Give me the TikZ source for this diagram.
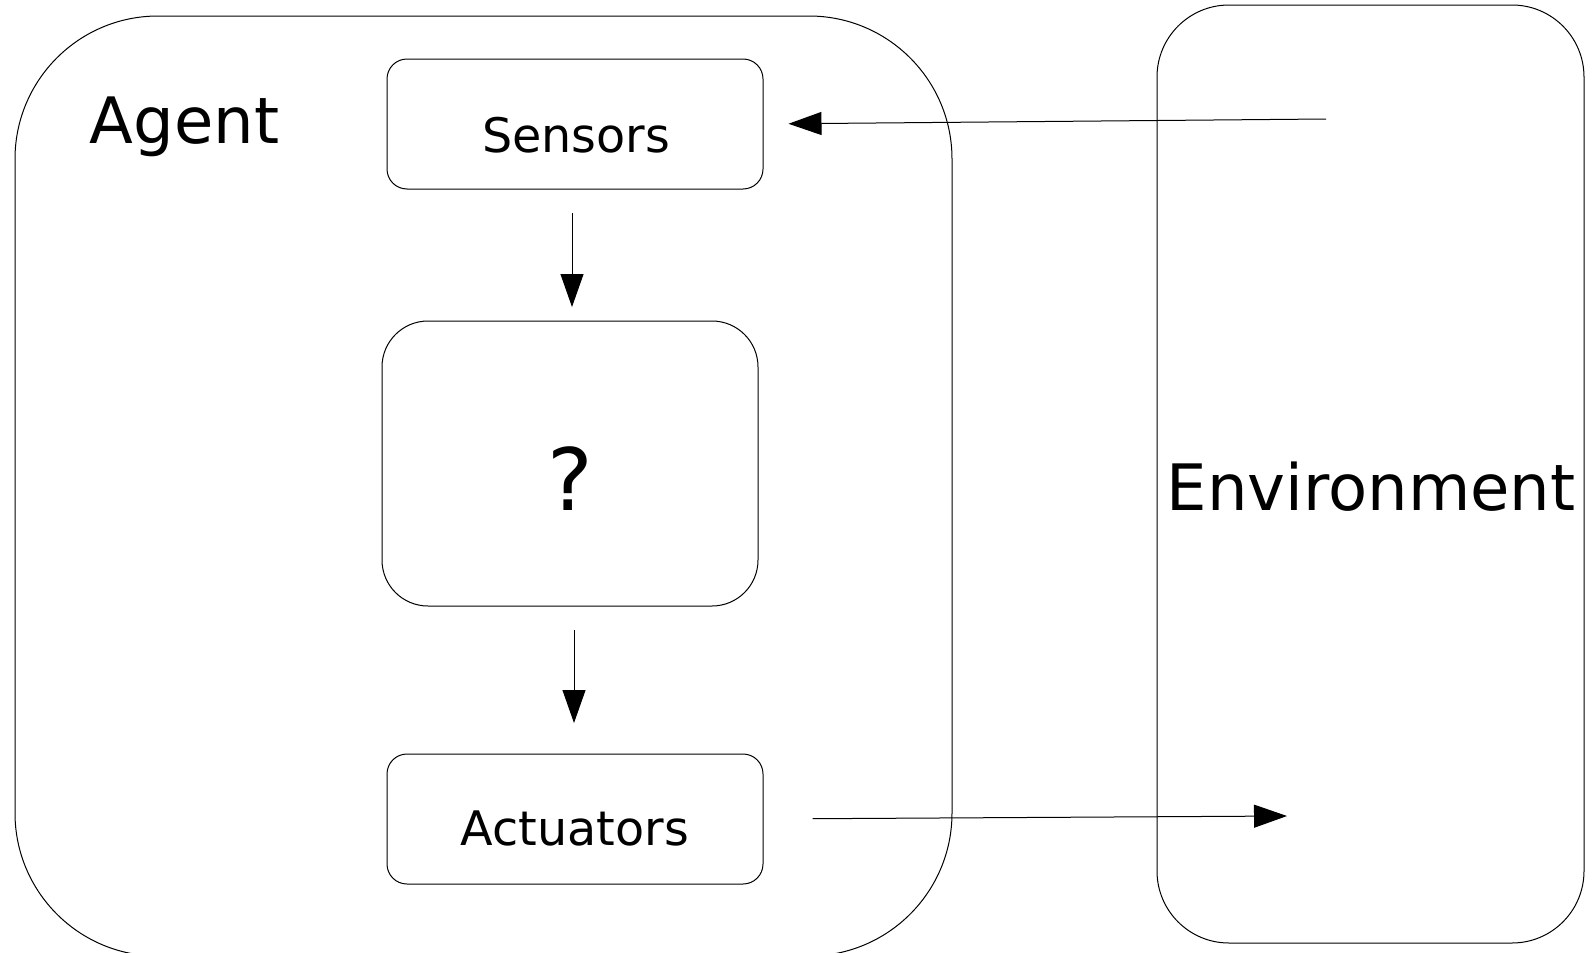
\documentclass[tikz,border=0pt]{standalone}
\usepackage{fontspec}
\setmainfont{DejaVu Sans}
\usetikzlibrary{arrows.meta}
\begin{document}
\begin{tikzpicture}[x=1pt,y=-1pt,
  frame/.style={draw=black, line width=1pt, inner sep=0pt, rectangle},
  unit/.style={frame, minimum width=376pt, minimum height=130pt, rounded corners=20pt},
  flow/.style={draw=black, line width=1pt, -{Triangle[length=33pt,width=23pt]}},
  bigtxt/.style={font=\fontsize{64}{70}\selectfont, anchor=base, inner sep=0pt},
  smalltxt/.style={font=\fontsize{47.6}{52}\selectfont, anchor=base, inner sep=0pt}]
  \useasboundingbox (0,0) rectangle (1593,953);
  \begin{scope}
    \clip (0,0) rectangle (1593,953);
    % agent frame (runs past the bottom edge)
    \node[frame, minimum width=937pt, minimum height=940pt, rounded corners=143pt]
      (agent) at (483.5,486) {};
    % environment frame
    \node[frame, minimum width=427pt, minimum height=938pt, rounded corners=72pt]
      (env) at (1370.5,474) {};
  \end{scope}
  % inner units
  \node[unit] (sensors) at (575,124) {};
  \node[unit] (actuators) at (575,819) {};
  \node[frame, minimum width=376pt, minimum height=285pt, rounded corners=46pt]
    (brain) at (570,463.5) {};
  % labels
  \node[bigtxt] (agentlbl) at (184.5,143) {Agent};
  \node[bigtxt] (envlbl) at (1371,510) {Environment};
  \node[smalltxt] (senslbl) at (576,152) {Sensors};
  \node[smalltxt] (actlbl) at (575,845) {Actuators};
  \node[font=\fontsize{86}{90}\selectfont, anchor=base, inner sep=0pt] (qlbl) at (570,510) {?};
  % connectors
  \coordinate (envsrc) at (1326,119);
  \coordinate (envsink) at (1287,816);
  \coordinate (sensout) at (572,213);
  \coordinate (brainin) at (572,307);
  \coordinate (brainout) at (574,630);
  \coordinate (actin) at (574,723);
  \draw[flow, shorten >=25pt] (envsrc) -- (sensors.east);
  \draw[flow] (sensout) -- (brainin);
  \draw[flow] (brainout) -- (actin);
  \draw[flow, shorten <=49pt] (actuators.east) -- (envsink);
\end{tikzpicture}
\end{document}
